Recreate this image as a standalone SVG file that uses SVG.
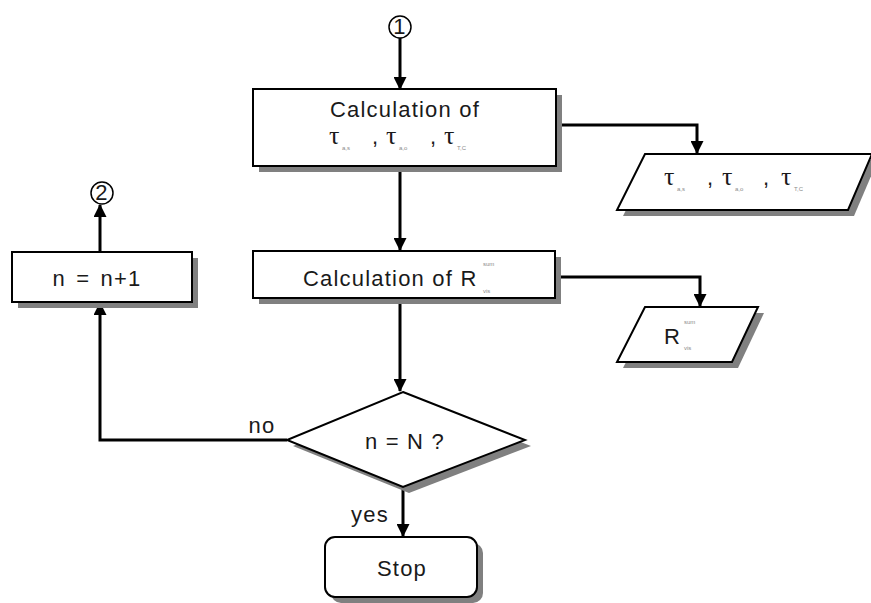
<svg xmlns="http://www.w3.org/2000/svg" width="871" height="603" viewBox="0 0 871 603">
<style>
.shape{fill:#fff;stroke:#000;stroke-width:2}
.shadow{fill:#808080;stroke:none}
.t{font-family:"Liberation Sans",Arial,sans-serif;font-size:22px;letter-spacing:1.2px;fill:#1a1a1a}
.m{text-anchor:middle}
.tau{font-family:"Liberation Serif","Times New Roman",serif;font-size:26px;fill:#1a1a1a}
.cm{font-family:"Liberation Sans",Arial,sans-serif;font-size:22px;fill:#1a1a1a}
.sub{font-family:"Liberation Sans",Arial,sans-serif;font-size:6px;fill:#8a8a8a}
.c{fill:none;stroke:#000;stroke-width:3}
</style>
<defs>
<marker id="ah" markerWidth="13" markerHeight="13" refX="12" refY="6.5" orient="auto" markerUnits="userSpaceOnUse">
<path d="M0,0 L13,6.5 L0,13 Z" fill="#000"/>
</marker>
</defs>
<rect width="871" height="603" fill="#fff"/>
<g id="connectors">
<line class="c" x1="400" y1="38" x2="400" y2="89" marker-end="url(#ah)"/>
<polyline class="c" points="556,125 697,125 697,153" marker-end="url(#ah)"/>
<line class="c" x1="400" y1="167" x2="400" y2="250" marker-end="url(#ah)"/>
<polyline class="c" points="556,277 700,277 700,306" marker-end="url(#ah)"/>
<line class="c" x1="400" y1="299" x2="400" y2="391" marker-end="url(#ah)"/>
<polyline class="c" points="287,440 100,440 100,303" marker-end="url(#ah)"/>
<line class="c" x1="100" y1="251" x2="100" y2="205" marker-end="url(#ah)"/>
<line class="c" x1="403" y1="488" x2="403" y2="536" marker-end="url(#ah)"/>
<text class="t m" x="262" y="433">no</text>
<text class="t m" x="370" y="522">yes</text>
</g>
<g id="c1">
<circle cx="400" cy="27" r="11" fill="#fff" stroke="#000" stroke-width="1.5"/>
<text class="t m" x="400" y="34" font-size="20" letter-spacing="0">1</text>
</g>
<g id="calcTau">
<rect class="shadow" x="259" y="95" width="303" height="77"/>
<rect class="shape" x="253" y="89" width="303" height="77"/>
<text class="t m" x="405" y="117">Calculation of</text>
<text class="tau" x="329" y="144">τ</text><text class="sub" x="342" y="150">a,s</text>
<text class="cm" x="372" y="144">,</text>
<text class="tau" x="386" y="144">τ</text><text class="sub" x="399" y="150">a,o</text>
<text class="cm" x="430" y="144">,</text>
<text class="tau" x="444" y="144">τ</text><text class="sub" x="457" y="150">T,C</text>
</g>
<g id="outTau">
<polygon class="shadow" points="651,160 878,160 854,216 623,216"/>
<polygon class="shape" points="645,154 872,154 848,210 617,210"/>
<text class="tau" x="664" y="185">τ</text><text class="sub" x="677" y="191">a,s</text>
<text class="cm" x="707" y="185">,</text>
<text class="tau" x="722" y="185">τ</text><text class="sub" x="735" y="191">a,o</text>
<text class="cm" x="763" y="185">,</text>
<text class="tau" x="781" y="185">τ</text><text class="sub" x="794" y="191">T,C</text>
</g>
<g id="calcR">
<rect class="shadow" x="259" y="257" width="302" height="47"/>
<rect class="shape" x="253" y="251" width="302" height="47"/>
<text class="t" x="303" y="286">Calculation of R</text>
<text class="sub" x="483" y="266">sum</text>
<text class="sub" x="483" y="293">vis</text>
</g>
<g id="outR">
<polygon class="shadow" points="651,313 764,313 738,368 623,368"/>
<polygon class="shape" points="645,307 758,307 732,362 617,362"/>
<text class="t" x="664" y="344" font-size="25">R</text>
<text class="sub" x="684" y="324">sum</text>
<text class="sub" x="684" y="350">vis</text>
</g>
<g id="inc">
<rect class="shadow" x="18" y="258" width="180" height="50"/>
<rect class="shape" x="12" y="252" width="180" height="50"/>
<text class="t m" x="97" y="286" word-spacing="3">n = n+1</text>
</g>
<g id="c2">
<circle cx="102" cy="193" r="11" fill="#fff" stroke="#000" stroke-width="1.5"/>
<text class="t m" x="102" y="200" font-size="20" letter-spacing="0">2</text>
</g>
<g id="decision">
<polygon class="shadow" points="409,398 531,446 409,493 293,446"/>
<polygon class="shape" points="403,392 525,440 403,487 287,440"/>
<text class="t m" x="405" y="449">n = N ?</text>
</g>
<g id="stop">
<rect class="shadow" x="331" y="543" width="152" height="60" rx="10"/>
<rect class="shape" x="325" y="537" width="152" height="60" rx="10"/>
<text class="t m" x="402" y="576">Stop</text>
</g>
</svg>
